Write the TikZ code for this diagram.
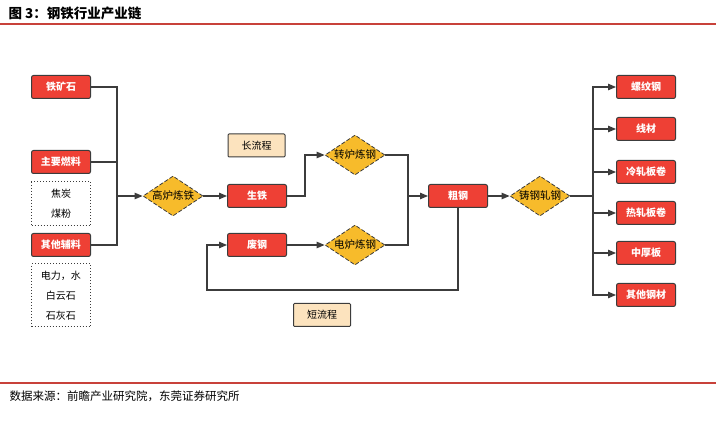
\documentclass[tikz,border=0pt]{standalone}
\usepackage{fontspec}
\setmainfont{Noto Sans CJK SC}
\usetikzlibrary{positioning,shapes.geometric,arrows.meta}
\definecolor{boxred}{HTML}{EE4035}
\definecolor{gold}{HTML}{F7BB2B}
\definecolor{peach}{HTML}{FCE3BE}
\definecolor{linegray}{HTML}{3C3C3C}
\definecolor{rulered}{HTML}{C8413A}

\tikzset{
  redbox/.style={draw=linegray, fill=boxred, rounded corners=2pt, line width=1pt,
    minimum width=59pt, minimum height=23pt, inner sep=0pt, text=white,
    font=\fontsize{10}{12}\selectfont\bfseries},
  procbox/.style={diamond, aspect=1.5, draw=linegray, dash pattern=on 4pt off 2pt,
    fill=gold, line width=0.8pt, minimum width=60pt, minimum height=40pt,
    inner sep=0pt, text=black, font=\fontsize{10.5}{12}\selectfont},
  notebox/.style={draw=linegray, dotted, line width=1pt, minimum width=59pt,
    align=center, font=\fontsize{10}{20}\selectfont},
  tagbox/.style={draw=linegray, fill=peach, line width=1pt, rounded corners=1pt,
    minimum width=57pt, minimum height=23pt, inner sep=0pt,
    font=\fontsize{10}{12}\selectfont},
  link/.style={draw=linegray, line width=1.1pt},
  arr/.style={link, -{Triangle[length=8pt,width=6.5pt]}}
}

\begin{document}
\begin{tikzpicture}[x=1pt, y=-1pt]
    \useasboundingbox (0,0) rectangle (716,425);

    % title and rules
    \node[anchor=west, font=\fontsize{13.5}{15}\selectfont\bfseries] (title) at (5,13) {图 3：钢铁行业产业链};
    \draw[rulered, line width=1.5pt] (0,24) -- (716,24);
    \draw[rulered, line width=1.5pt] (0,383) -- (716,383);
    \node[anchor=west, font=\fontsize{11.5}{13}\selectfont] (src) at (6,396) {数据来源：前瞻产业研究院，东莞证券研究所};

    % raw materials
    \node[redbox] (ore) at (61,87) {铁矿石};
    \node[redbox] (fuel) at (61,162) {主要燃料};
    \node[notebox, minimum height=44pt] (coal) at (61,204) {焦炭\\煤粉};
    \node[redbox] (aux) at (61,245) {其他辅料};
    \node[notebox, minimum height=63pt] (flux) at (61,295.5) {电力，水\\白云石\\石灰石};

    % iron and steel making
    \coordinate (jn) at (117,196);
    \node[procbox] (bf) at (173,196) {高炉炼铁};
    \node[redbox] (pig) at (257,196) {生铁};
    \node[redbox] (scrap) at (257,245) {废钢};
    \node[tagbox] (long) at (256.5,145.5) {长流程};
    \node[procbox] (bof) at (355,155) {转炉炼钢};
    \node[procbox] (eaf) at (355,245) {电炉炼钢};
    \node[tagbox] (short) at (322,315) {短流程};
    \node[redbox] (crude) at (458,196) {粗钢};
    \node[procbox] (roll) at (540,196) {铸钢轧钢};

    % products
    \foreach \name/\txt/\y in {rebar/螺纹钢/87, wire/线材/129, cold/冷轧板卷/172,
        hot/热轧板卷/213, plate/中厚板/253, other/其他钢材/295}
        \node[redbox] (\name) at (646,\y) {\txt};

    \coordinate (k1) at (305,0);
    \coordinate (k2) at (408,0);
    \coordinate (k3) at (207,290);
    \coordinate (br) at (593,196);

    \foreach \n in {ore,fuel,aux}
        \draw[link] (\n) -| (jn);
    \draw[arr] (jn) -- (bf);
    \draw[arr] (bf) -- (pig);
    \draw[arr] (pig) -- (pig -| k1) |- (bof);
    \draw[arr] (scrap) -- (eaf);
    \draw[link] (bof) -| (k2 |- crude);
    \draw[link] (eaf) -| (k2 |- crude);
    \draw[arr] (k2 |- crude) -- (crude);
    \draw[arr] (crude) |- (k3) |- (scrap);
    \draw[arr] (crude) -- (roll);
    \draw[link] (roll) -- (br);
    \foreach \name in {rebar,wire,cold,hot,plate,other}
        \draw[arr] (br) |- (\name);
\end{tikzpicture}
\end{document}
